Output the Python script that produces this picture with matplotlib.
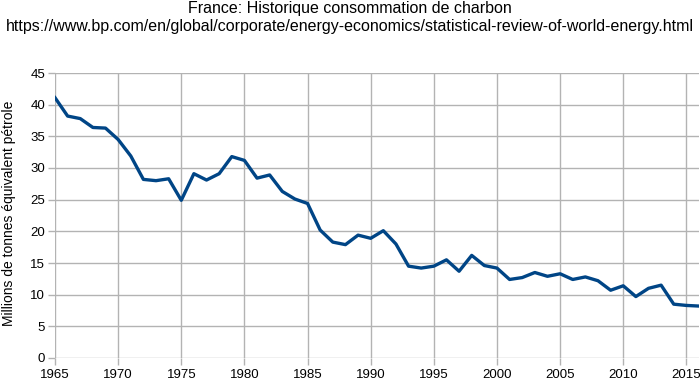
import matplotlib
matplotlib.use("Agg")
import matplotlib.pyplot as plt

years = list(range(1965, 2017))
coal = [41.1, 38.2, 37.8, 36.4, 36.3, 34.5, 31.9, 28.2, 28.0, 28.3,
        24.9, 29.1, 28.1, 29.1, 31.8, 31.2, 28.4, 28.9, 26.3, 25.1,
        24.4, 20.2, 18.3, 17.9, 19.4, 18.9, 20.1, 18.0, 14.5, 14.2,
        14.5, 15.5, 13.7, 16.2, 14.6, 14.2, 12.4, 12.7, 13.5, 12.9,
        13.3, 12.4, 12.8, 12.2, 10.7, 11.4, 9.7, 11.0, 11.5, 8.5,
        8.3, 8.2]
xticks = list(range(1965, 2016, 5))
yticks = list(range(0, 46, 5))

plt.rcParams['font.family'] = ['Liberation Sans', 'DejaVu Sans']

fig = plt.figure(figsize=(7.0, 3.81), dpi=100)
ax = fig.add_axes([55/700, 1-358/381, 644/700, 285/381])
ax.plot(years, coal, color='#004586', linewidth=2.4, solid_joinstyle='round')
ax.set_xlim(1965, 2016)
ax.set_ylim(0, 45)
ax.set_xticks(xticks)
ax.set_yticks(yticks)
ax.grid(True, color='#b3b3b3', linewidth=1.0)
ax.set_axisbelow(True)
for s in ax.spines.values():
    s.set_visible(False)
ax.tick_params(axis='both', colors='#b3b3b3', labelcolor='black', labelsize=9.5, length=5, width=1)
ax.tick_params(axis='x', pad=3)
ax.tick_params(axis='y', pad=2)

fig.text(0.5, 1-8/381, "France: Historique consommation de charbon", ha='center', va='center', fontsize=11.5)
fig.text(0.5, 1-27/381, "https://www.bp.com/en/global/corporate/energy-economics/statistical-review-of-world-energy.html",
         ha='center', va='center', fontsize=11.5)
fig.text(9/700, 1-213/381, "Millions de tonnes équivalent pétrole", rotation=90, ha='center', va='center', fontsize=10)

fig.savefig("out.png", dpi=100)
